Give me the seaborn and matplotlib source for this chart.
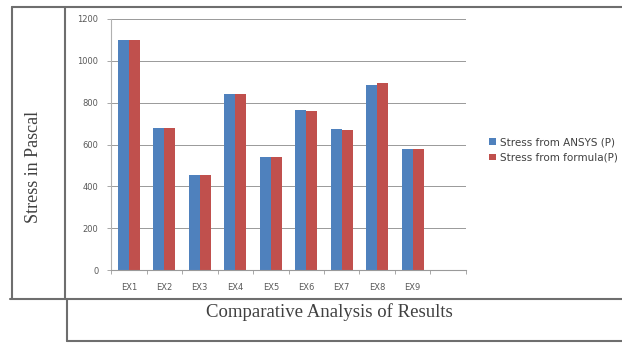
import matplotlib
matplotlib.use("Agg")
import matplotlib.pyplot as plt
from matplotlib.lines import Line2D
import seaborn as sns
import pandas as pd
import numpy as np

# Stress values for each experiment (Pascal)
experiments = ["EX1", "EX2", "EX3", "EX4", "EX5", "EX6", "EX7", "EX8", "EX9"]
stress_ansys = [1098, 678, 454, 843, 538, 765, 675, 884, 578]
stress_formula = [1098, 678, 454, 843, 538, 760, 668, 895, 578]
series_names = ["Stress from ANSYS (P)", "Stress from formula(P)"]
y_ticks = [0, 200, 400, 600, 800, 1000, 1200]

df = pd.DataFrame({
    "experiment": experiments * 2,
    "stress": stress_ansys + stress_formula,
    "series": [series_names[0]] * len(experiments) + [series_names[1]] * len(experiments),
})

sns.set_style("white")
plt.rcParams["font.family"] = ["DejaVu Sans"]

W, H = 622, 343
fig = plt.figure(figsize=(W / 100, H / 100), dpi=100)
fig.patch.set_facecolor("white")

def fx(px):
    return px / W

def fy(py):
    return 1 - py / H

ax = fig.add_axes([fx(111), fy(270), fx(466) - fx(111), fy(19) - fy(270)])

palette = {series_names[0]: "#4F81BD", series_names[1]: "#C0504D"}
sns.barplot(data=df, x="experiment", y="stress", hue="series", order=experiments,
            hue_order=series_names, palette=palette, saturation=1, width=0.62,
            gap=0, ax=ax, legend=True, edgecolor="none")

ax.set_xlim(-0.5, 9.5)
ax.set_ylim(0, 1200)
ax.set_yticks(y_ticks)
ax.set_yticklabels([str(v) for v in y_ticks])
ax.set_xticks(range(len(experiments)))
ax.set_xticklabels(experiments)
ax.set_xlabel("")
ax.set_ylabel("")

# horizontal gridlines
for v in y_ticks[1:]:
    ax.axhline(v, color="#999999", lw=0.7, zorder=0)
ax.set_axisbelow(True)

for side in ["top", "right"]:
    ax.spines[side].set_visible(False)
ax.spines["left"].set_color("#b0b0b0")
ax.spines["bottom"].set_color("#9a9a9a")
ax.spines["left"].set_linewidth(0.8)
ax.spines["bottom"].set_linewidth(0.8)

ax.tick_params(axis="y", which="major", left=True, length=3, width=0.6, color="#9a9a9a",
               labelsize=6, labelcolor="#595959", pad=6)
ax.tick_params(axis="x", which="major", bottom=False, labelsize=6, labelcolor="#595959", pad=6)
# category separators on the x-axis
ax.set_xticks(np.arange(-0.5, 10, 1), minor=True)
ax.tick_params(axis="x", which="minor", bottom=True, length=3, width=0.6, color="#9a9a9a")

# legend beside the plot
handles, labels = ax.get_legend_handles_labels()
ax.legend_.remove()
fig.legend(handles, labels, loc="center left", bbox_to_anchor=(fx(480), fy(150)),
           frameon=False, fontsize=7.5, handlelength=0.6, handleheight=0.6,
           handletextpad=0.4, labelspacing=0.5, labelcolor="#404040")

# surrounding boxes
frame_kw = dict(color="#6e6e6e", lw=1.5, transform=fig.transFigure)
fig.add_artist(Line2D([fx(12), fx(622)], [fy(7), fy(7)], **frame_kw))
fig.add_artist(Line2D([fx(12), fx(12)], [fy(7), fy(298)], **frame_kw))
fig.add_artist(Line2D([fx(65), fx(65)], [fy(7), fy(298)], **frame_kw))
fig.add_artist(Line2D([fx(10), fx(622)], [fy(299), fy(299)], **frame_kw))
fig.add_artist(Line2D([fx(67), fx(67)], [fy(299), fy(341)], **frame_kw))
fig.add_artist(Line2D([fx(67), fx(622)], [fy(341), fy(341)], **frame_kw))

fig.text(fx(34), fy(167), "Stress in Pascal", rotation=90, ha="center", va="center",
         fontsize=13, family=["Liberation Serif", "DejaVu Serif"], color="#404040")
fig.text(fx(329), fy(312), "Comparative Analysis of Results", ha="center", va="center",
         fontsize=13.5, family=["Liberation Serif", "DejaVu Serif"], color="#404040")

fig.savefig("out.png", dpi=100, facecolor="white")
